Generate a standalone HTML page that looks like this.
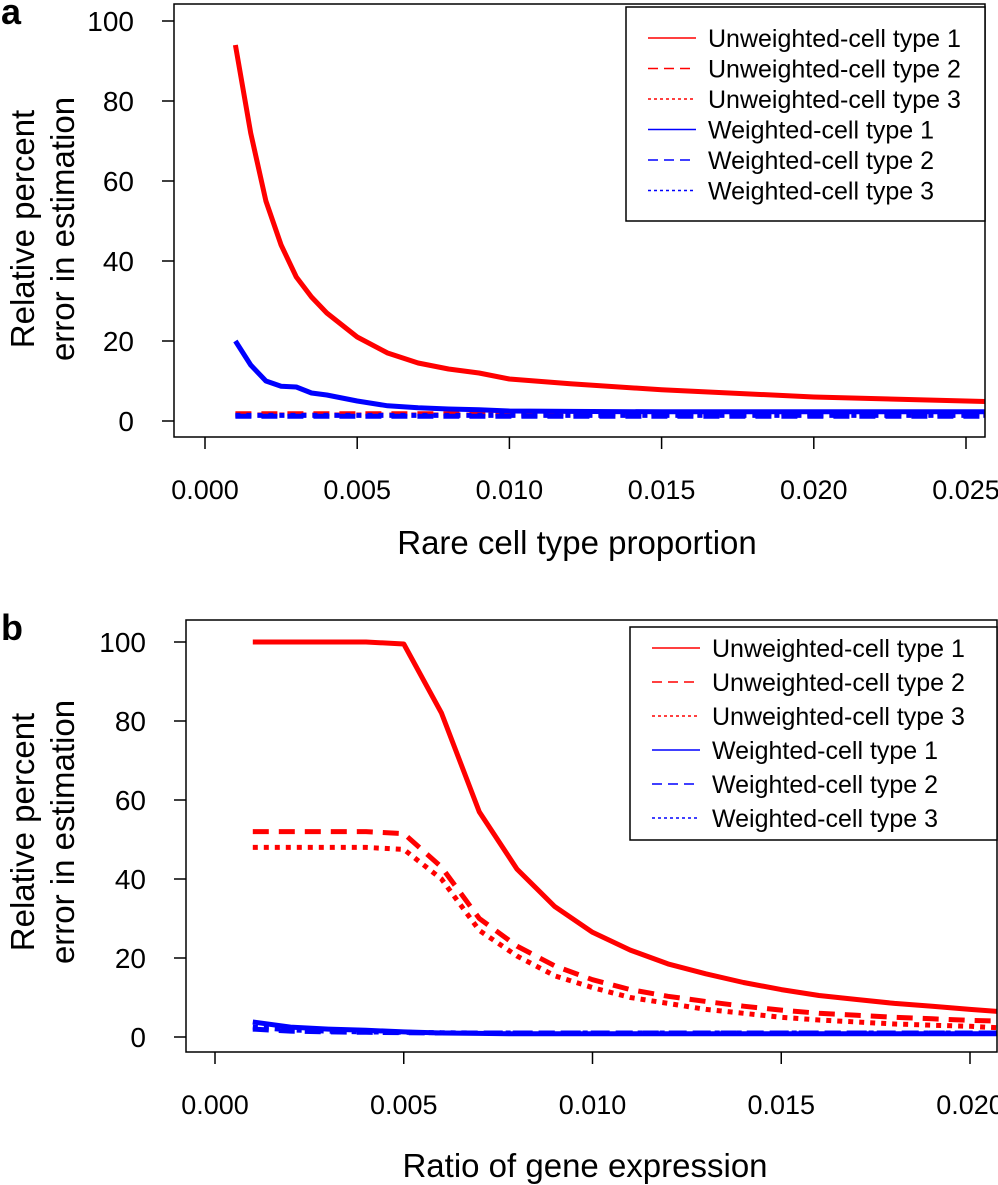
<!DOCTYPE html>
<html><head><meta charset="utf-8"><style>
body{margin:0;background:#fff}
svg{display:block;font-family:"Liberation Sans",Arial,sans-serif}
</style></head><body>
<svg id="fig" width="998" height="1185" viewBox="0 0 998 1185"></svg>
<script>
// Panel a data
const xA = [0.001,0.0015,0.002,0.0025,0.003,0.0035,0.004,0.005,0.006,0.007,0.008,0.009,0.010,0.012,0.015,0.020,0.026];
const aUnw1 = [94,72,55,44,36,31,27,21,17,14.5,13,12,10.5,9.3,7.8,6,4.8];
const aUnw2 = [1.8,1.8,1.8,1.8,1.8,1.8,1.8,1.8,1.8,1.8,1.8,1.8,1.8,1.8,1.8,1.8,1.8];
const aUnw3 = [1.5,1.5,1.5,1.5,1.5,1.5,1.5,1.5,1.5,1.5,1.5,1.5,1.5,1.5,1.5,1.5,1.5];
const aW1 = [20,14,10,8.7,8.5,7,6.5,5,3.8,3.3,3,2.8,2.5,2.4,2.3,2.3,2.3];
const aW2 = [1.2,1.2,1.2,1.2,1.2,1.2,1.2,1.2,1.2,1.2,1.2,1.2,1.2,1.2,1.2,1.2,1.2];
const aW3 = [1.4,1.4,1.4,1.4,1.4,1.4,1.4,1.4,1.4,1.4,1.4,1.4,1.4,1.4,1.4,1.4,1.4];
const xTicksA = ["0.000","0.005","0.010","0.015","0.020","0.025"];
const yTicks = ["0","20","40","60","80","100"];
// Panel b data
const xB = [0.001,0.002,0.003,0.004,0.005,0.006,0.007,0.008,0.009,0.010,0.011,0.012,0.013,0.014,0.015,0.016,0.017,0.018,0.019,0.020,0.021];
const bUnw1 = [100,100,100,100,99.5,82,57,42.5,33,26.5,22,18.5,16,13.8,12,10.5,9.5,8.5,7.8,7,6.3];
const bUnw2 = [52,52,52,52,51.5,43,30,23,18,14.5,12,10.3,9,7.8,6.8,6,5.5,5,4.6,4.2,4];
const bUnw3 = [48,48,48,48,47.5,40,27,20.5,15.5,12.5,10,8.5,7,6,5,4.3,3.8,3.3,3,2.7,2.2];
const bW1 = [3.8,2.5,2,1.7,1.3,1,0.9,0.8,0.8,0.8,0.8,0.8,0.8,0.8,0.8,0.8,0.8,0.8,0.8,0.8,0.8];
const bW2 = [2,1.5,1.3,1.2,1.1,1,1,1,1,1,1,1,1,1,1,1,1,1,1,1,1];
const bW3 = [2.5,1.8,1.5,1.3,1.2,1.1,1,1,1,1,1,1,1,1,1,1,1,1,1,1,1];
const xTicksB = ["0.000","0.005","0.010","0.015","0.020"];
const legendLabels = ["Unweighted-cell type 1","Unweighted-cell type 2","Unweighted-cell type 3","Weighted-cell type 1","Weighted-cell type 2","Weighted-cell type 3"];

const NS="http://www.w3.org/2000/svg";
const svg=document.getElementById('fig');
function mk(tag,attrs,parent){const e=document.createElementNS(NS,tag);for(const k in attrs)e.setAttribute(k,attrs[k]);(parent||svg).appendChild(e);return e;}
const styles=[["red",""],["red","16 10"],["red","5 6"],["blue",""],["blue","16 10"],["blue","5 6"]];

function panel(cfg){
  const g=mk('g',{});
  
  
  const sx=v=>cfg.x0+v*(cfg.x1-cfg.x0)/cfg.xmax;
  const sy=v=>cfg.y0-v*(cfg.y0-cfg.y100)/100;
  const clipId='clip'+cfg.name;
  const cp=mk('clipPath',{id:clipId},g);
  mk('rect',{x:cfg.L,y:cfg.T,width:cfg.R-cfg.L,height:cfg.B-cfg.T},cp);
  const series=cfg.s;
  const names=['unweighted-type1-line','unweighted-type2-line','unweighted-type3-line','weighted-type1-line','weighted-type2-line','weighted-type3-line'];
  [0,1,2,3,4,5].forEach(i=>{
    const d=cfg.xs.map((x,j)=>(j?'L':'M')+sx(x).toFixed(1)+','+sy(series[i][j]).toFixed(1)).join(' ');
    const p=mk('path',{d:d,fill:'none',stroke:styles[i][0],'stroke-width':5,'stroke-dasharray':styles[i][1],'clip-path':'url(#'+clipId+')','stroke-linejoin':'round'},g);
    
    
  });
  const fr=mk('rect',{x:cfg.L,y:cfg.T,width:cfg.R-cfg.L,height:cfg.B-cfg.T,fill:'none',stroke:'#000','stroke-width':1.5},g);
  
  
  yTicks.forEach((t)=>{
    const y=sy(+t);
    mk('line',{x1:cfg.L-12,x2:cfg.L,y1:y,y2:y,stroke:'#000','stroke-width':1.5},g);
    const tx=mk('text',{x:cfg.L-40,y:y+10,'text-anchor':'end','font-size':28},g);
    tx.textContent=t;
    
    
  });
  cfg.xt.forEach(t=>{
    const x=sx(+t);
    mk('line',{x1:x,x2:x,y1:cfg.B,y2:cfg.B+12,stroke:'#000','stroke-width':1.5},g);
    const tx=mk('text',{x:x,y:cfg.B+62,'text-anchor':'middle','font-size':27},g);
    tx.textContent=t;
    
    
  });
  const xt=mk('text',{x:cfg.xtx,y:cfg.xty,'text-anchor':'middle','font-size':33},g);
  xt.textContent=cfg.xtitle;
  
  
  const yt=mk('text',{transform:'translate(34,'+cfg.ytc+') rotate(-90)','text-anchor':'middle','font-size':33},g);
  
  
  const t1=mk('tspan',{x:0,y:0},yt);t1.textContent='Relative percent';
  const t2=mk('tspan',{x:0,y:40},yt);t2.textContent='error in estimation';
  const pl=mk('text',{x:1,y:cfg.ply,'font-size':36,'font-weight':'bold'},g);
  pl.textContent=cfg.label;
  
  
  const lg=mk('g',{},g);
  
  
  mk('rect',{x:cfg.lx,y:cfg.ly,width:cfg.lw,height:cfg.lh,fill:'#fff',stroke:'#000','stroke-width':1.5},lg);
  legendLabels.forEach((lab,i)=>{
    const y=cfg.ly+cfg.lr0+i*cfg.lsp;
    const e=mk('g',{},lg);
    
    
    mk('line',{x1:cfg.lx+22,x2:cfg.lx+70,y1:y,y2:y,stroke:styles[i][0],'stroke-width':1.5,'stroke-dasharray':styles[i][1]?(i%3==1?'10 6':'3 3'):''},e);
    const tx=mk('text',{x:cfg.lx+82,y:y+9,'font-size':25},e);
    tx.textContent=lab;
  });
}
panel({name:'panel-a',label:'a',ply:24,L:174,R:985,T:4,B:437,x0:205,x1:966,xmax:0.025,y0:421,y100:21,
  xs:xA,s:[aUnw1,aUnw2,aUnw3,aW1,aW2,aW3],xt:xTicksA,xtitle:'Rare cell type proportion',xtx:577,xty:554,ytc:229,
  lx:626,ly:7,lw:359,lh:214,lr0:31,lsp:30.5});
panel({name:'panel-b',label:'b',ply:640,L:186,R:997,T:620,B:1052,x0:215,x1:970,xmax:0.020,y0:1037,y100:642,
  xs:xB,s:[bUnw1,bUnw2,bUnw3,bW1,bW2,bW3],xt:xTicksB,xtitle:'Ratio of gene expression',xtx:585,xty:1177,ytc:832,
  lx:630,ly:627,lw:367,lh:213,lr0:21,lsp:34});
</script>
</body></html>
